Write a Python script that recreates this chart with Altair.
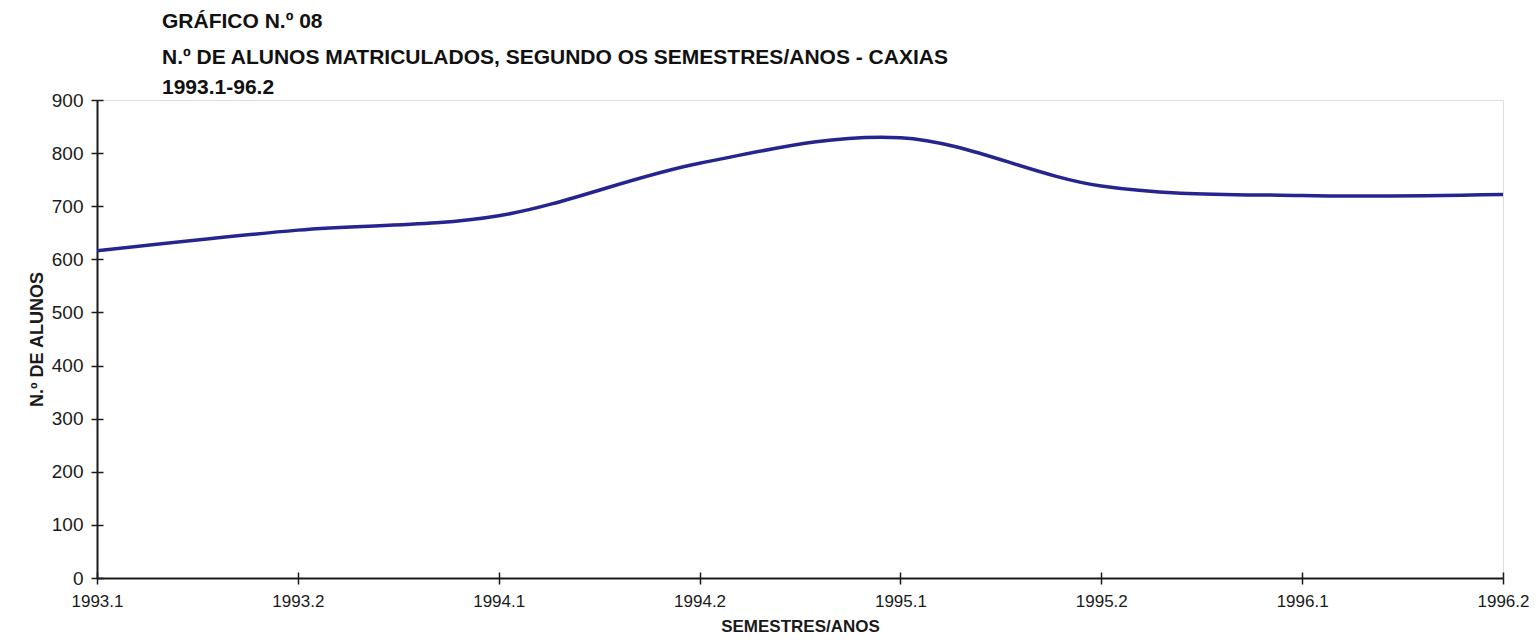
import altair as alt
import pandas as pd

semestres = ["1993.1", "1993.2", "1994.1", "1994.2", "1995.1", "1995.2", "1996.1", "1996.2"]
alunos = [616, 655, 682, 781, 829, 738, 720, 722]
y_ticks = [0, 100, 200, 300, 400, 500, 600, 700, 800, 900]

titulo = "GRÁFICO N.º 08"
subtitulo = ["N.º DE ALUNOS MATRICULADOS, SEGUNDO OS SEMESTRES/ANOS - CAXIAS", "1993.1-96.2"]

df = pd.DataFrame({"semestre": semestres, "alunos": alunos})

FONT = "Liberation Sans"
AX = "#1a1a1a"
W, H = 1406, 478
T = 6  # half-length of the crossing ticks

x_scale = alt.Scale(type="point", padding=0)
y_scale = alt.Scale(domain=[0, 900], nice=False, zero=True)

# the x grid runs from the top of the plot down to the axis, the y grid from the axis to the right:
# dashes keep only the piece next to each axis, giving the inner half of the crossing ticks
chart = alt.Chart(df).mark_line(interpolate="cardinal", color="#25258f", strokeWidth=3.5).encode(
    x=alt.X("semestre:O", sort=semestres, scale=x_scale,
            axis=alt.Axis(orient="bottom", title="SEMESTRES/ANOS", labelAngle=0, labelFont=FONT,
                          labelFontSize=17, labelColor=AX, titleFont=FONT, titleFontSize=17,
                          titleFontWeight="bold", titleColor=AX, domainColor=AX, domainWidth=2,
                          tickColor=AX, tickWidth=1.5, tickSize=T, labelPadding=9, titlePadding=9,
                          grid=True, gridColor=AX, gridWidth=1.5, gridOpacity=1,
                          gridDash=[T, H - T], gridDashOffset=T)),
    y=alt.Y("alunos:Q", scale=y_scale,
            axis=alt.Axis(orient="left", title="N.º DE ALUNOS", values=y_ticks, labelFont=FONT,
                          labelFontSize=19, labelColor=AX, titleFont=FONT, titleFontSize=18,
                          titleFontWeight="bold", titleColor=AX, domainColor=AX, domainWidth=2,
                          tickColor=AX, tickWidth=1.5, tickSize=T, labelPadding=8, titlePadding=5,
                          grid=True, gridColor=AX, gridWidth=1.5, gridOpacity=1,
                          gridDash=[T, W + 50])),
).properties(
    width=W,
    height=H,
    autosize=alt.AutoSizeParams(type="none"),
    padding={"left": 89, "top": 92, "right": 26, "bottom": 57},
    title=alt.TitleParams(
        text=titulo,
        subtitle=subtitulo,
        anchor="start",
        frame="group",
        dx=65,
        offset=-7,
        font=FONT,
        fontSize=21,
        fontWeight="bold",
        color="#111",
        subtitleFont=FONT,
        subtitleFontSize=21,
        subtitleFontWeight="bold",
        subtitleColor="#111",
        subtitleLineHeight=30,
        subtitlePadding=15,
    ),
).configure_view(stroke=None).configure(background="white")

chart.save("out.html", embed_options={"renderer": "svg", "actions": False})
